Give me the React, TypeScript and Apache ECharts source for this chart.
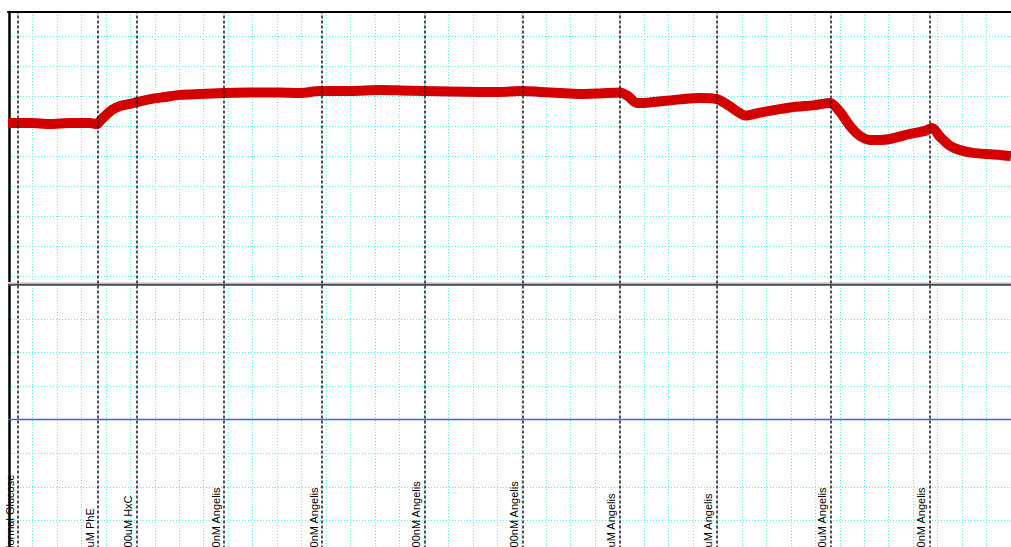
import React, { useEffect, useRef } from "react";
import * as echarts from "echarts";

// Time axis in grid divisions (41 divisions across the plot)
const TIME_MAX = 41;

// Red trace (tension signal) — time and level in grid divisions
const redTime = [
  0, 0.9, 1.72, 2.53, 3.35, 3.64, 3.76, 3.97, 4.25, 4.58, 4.99, 5.27, 5.81, 6.42, 7.03, 7.85,
  8.83, 9.89, 11.12, 11.94, 12.75, 13.98, 15.21, 16.02, 17.01, 18.07, 19.3, 20.11, 21.01, 21.75,
  22.56, 23.38, 24.2, 25.02, 25.34, 25.71, 26.24, 27.47, 28.29, 28.98, 29.43, 29.84, 30.13, 30.74,
  31.97, 32.99, 33.6, 34.01, 34.42, 34.83, 35.24, 35.65, 36.05, 36.87, 37.49, 37.77, 38.1, 38.51,
  38.92, 39.53, 40.55, 41.0,
];
const redLevel = [
  5.12, 5.12, 5.09, 5.12, 5.12, 5.09, 5.19, 5.36, 5.56, 5.69, 5.76, 5.82, 5.92, 5.99, 6.06, 6.09,
  6.12, 6.14, 6.14, 6.12, 6.19, 6.19, 6.22, 6.21, 6.19, 6.17, 6.16, 6.16, 6.19, 6.16,
  6.12, 6.09, 6.11, 6.14, 6.02, 5.79, 5.81, 5.91, 5.96, 5.92, 5.72, 5.49, 5.37, 5.47,
  5.64, 5.72, 5.79, 5.49, 5.02, 4.69, 4.56, 4.56, 4.59, 4.76, 4.86, 4.96, 4.66, 4.36,
  4.22, 4.12, 4.06, 4.02,
];

// Constant traces in the lower panel
const darkTraceLevel = 8.02;
const blueTraceLevel = 4;

// Event markers
const eventTimes = [0.41, 3.68, 5.26, 8.83, 12.84, 17.02, 21.04, 24.99, 28.97, 33.63, 37.66];
const eventLabels = [
  "Normal Glucose",
  "1uM PhE",
  "100uM HxC",
  "10nM Angelis",
  "30nM Angelis",
  "100nM Angelis",
  "300nM Angelis",
  "1uM Angelis",
  "3uM Angelis",
  "10uM Angelis",
  "10nM Angelis",
];

const CYAN = "#4ff0f0";
const FONT = "'Liberation Sans', Arial, sans-serif";

export default function App() {
  const ref = useRef<HTMLDivElement>(null);

  useEffect(() => {
    if (!ref.current) return;
    const chart = echarts.init(ref.current, undefined, { renderer: "svg" });

    const gridLeft = 8;
    const gridWidth = 1003;

    const hiddenX = (gridIndex: number) => ({
      type: "value",
      gridIndex,
      min: 0,
      max: TIME_MAX,
      interval: 1,
      show: false,
    });

    const option: any = {
      animation: false,
      backgroundColor: "#ffffff",
      grid: [
        { left: gridLeft, width: gridWidth, top: 12, height: 560, outerBoundsMode: "none" },
        { left: gridLeft, width: gridWidth, top: 12, height: 264.7, outerBoundsMode: "none" },
        { left: gridLeft, width: gridWidth, top: 285.3, height: 268.6, outerBoundsMode: "none" },
      ],
      xAxis: [
        {
          type: "value",
          gridIndex: 0,
          min: 0,
          max: TIME_MAX,
          interval: 1,
          position: "top",
          axisLine: { show: true, onZero: false, lineStyle: { color: "#000", width: 2 } },
          axisTick: { show: false },
          axisLabel: { show: false },
          splitLine: { show: true, lineStyle: { color: CYAN, width: 1, type: [1, 2] } },
        },
        hiddenX(1),
        hiddenX(2),
      ],
      yAxis: [
        {
          type: "value",
          gridIndex: 0,
          min: 0,
          max: 1,
          position: "left",
          offset: -1,
          axisLine: { show: true, onZero: false, lineStyle: { color: "#000", width: 2.5 } },
          axisTick: { show: false },
          axisLabel: { show: false },
          splitLine: { show: false },
        },
        {
          type: "value",
          gridIndex: 1,
          min: 0,
          max: 8.823,
          interval: 1,
          axisLine: { show: false },
          axisTick: { show: false },
          axisLabel: { show: false },
          splitLine: { show: true, lineStyle: { color: CYAN, width: 1, type: [1, 2] } },
        },
        {
          type: "value",
          gridIndex: 2,
          min: 0,
          max: 8,
          interval: 1,
          axisLine: { show: false },
          axisTick: { show: false },
          axisLabel: { show: false },
          splitLine: { show: true, lineStyle: { color: CYAN, width: 1, type: [1, 2] } },
        },
      ],
      series: [
        {
          type: "line",
          name: "events",
          xAxisIndex: 0,
          yAxisIndex: 0,
          data: [],
          symbol: "none",
          silent: true,
          markLine: {
            silent: true,
            symbol: "none",
            animation: false,
            lineStyle: { color: "#1a1a1a", width: 1.5, type: [3, 2] },
            label: {
              show: true,
              position: "insideStartTop",
              distance: [0, 3],
              color: "#000",
              fontSize: 11,
              fontFamily: FONT,
              formatter: (p: any) => p.name,
            },
            emphasis: { disabled: true },
            data: eventTimes.map((t, i) => [
              { name: eventLabels[i], coord: [t, 0.033] },
              { coord: [t, 1] },
            ]),
          },
        },
        {
          type: "line",
          name: "dark trace shade",
          xAxisIndex: 2,
          yAxisIndex: 2,
          data: [
            [0, darkTraceLevel + 0.05],
            [TIME_MAX, darkTraceLevel + 0.05],
          ],
          symbol: "none",
          silent: true,
          clip: false,
          lineStyle: { color: "#dcdcdc", width: 2 },
        },
        {
          type: "line",
          name: "dark trace",
          xAxisIndex: 2,
          yAxisIndex: 2,
          data: [
            [0, darkTraceLevel],
            [TIME_MAX, darkTraceLevel],
          ],
          symbol: "none",
          silent: true,
          clip: false,
          lineStyle: { color: "#4d4d4d", width: 2 },
        },
        {
          type: "line",
          name: "blue trace",
          xAxisIndex: 2,
          yAxisIndex: 2,
          data: [
            [0, blueTraceLevel],
            [TIME_MAX, blueTraceLevel],
          ],
          symbol: "none",
          silent: true,
          lineStyle: { color: "#2f66ff", width: 1.5 },
        },
        {
          type: "line",
          name: "tension",
          xAxisIndex: 1,
          yAxisIndex: 1,
          data: redTime.map((t, i) => [t, redLevel[i]]),
          symbol: "none",
          silent: true,
          clip: false,
          smooth: 0.3,
          lineStyle: { color: "#d40000", width: 10, join: "round", cap: "butt" },
        },
      ],
    };

    chart.setOption(option);
    return () => chart.dispose();
  }, []);

  return (
    <div
      style={{
        position: "absolute",
        left: 0,
        top: 0,
        width: 1011,
        height: 547,
        overflow: "hidden",
        background: "#fff",
      }}
    >
      <div ref={ref} style={{ width: 1011, height: 580 }} />
    </div>
  );
}
